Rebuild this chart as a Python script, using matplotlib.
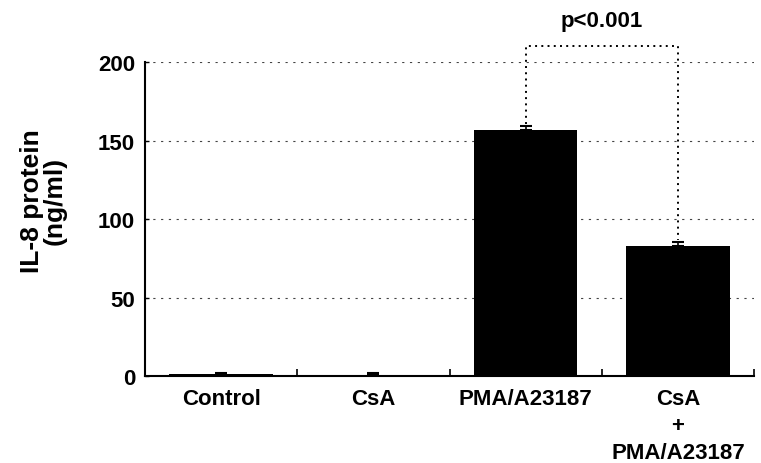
import numpy as np
import matplotlib.pyplot as plt

# values
groups = ['Control', 'CsA', 'PMA/A23187', 'CsA\n+\nPMA/A23187']
il8 = [1.0, 0.8, 157, 83]
il8_err = [1.0, 1.0, 2.5, 2.5]
y_ticks = [0, 50, 100, 150, 200]
p_text = 'p<0.001'

plt.rcParams['font.family'] = ['Liberation Sans', 'DejaVu Sans']
plt.rcParams['font.weight'] = 'bold'

fig = plt.figure(figsize=(7.61, 4.64), dpi=100)
ax = fig.add_axes([0.1905, 0.1875, 0.8005, 0.6767])

x = np.arange(len(groups))
ax.bar(x, il8, width=0.68, color='black', zorder=3)
ax.errorbar(x, il8, yerr=[np.zeros(len(il8)), il8_err], fmt='none',
            ecolor='black', elinewidth=1.2, capsize=4, capthick=1.5, zorder=4)

ax.set_xlim(-0.5, len(groups) - 0.5)
ax.set_ylim(0, 200)
ax.set_yticks(y_ticks)
ax.set_yticklabels([str(v) for v in y_ticks], fontsize=16, fontweight='bold')
ax.tick_params(axis='y', direction='in', length=3, width=1, pad=7)
ax.set_xticks(x)
ax.set_xticklabels(groups, fontsize=16, fontweight='bold', linespacing=1.35)
ax.tick_params(axis='x', which='major', length=0, pad=9)
ax.set_xticks(list(x + 0.5), minor=True)
ax.tick_params(axis='x', which='minor', direction='in', length=5, width=1.2)

ax.spines['top'].set_visible(False)
ax.spines['right'].set_visible(False)
ax.spines['left'].set_linewidth(1.5)
ax.spines['bottom'].set_linewidth(1.5)

for v in y_ticks[1:]:
    ax.axhline(v, color='#444444', lw=0.8, ls=(0, (2, 5)), zorder=1)

# significance bracket
top = 210
i, j = 2, 3
ax.plot([x[i], x[i], x[j], x[j]],
        [il8[i] + il8_err[i] + 1, top, top, il8[j] + il8_err[j] + 1],
        color='black', lw=1.4, ls=(0, (1, 2.2)), clip_on=False, zorder=5)
ax.text((x[i] + x[j]) / 2, top + 10, p_text, ha='center', va='bottom',
        fontsize=16, fontweight='bold', clip_on=False)

fig.text(0.057, 0.567, 'IL-8 protein\n(ng/ml)', rotation=90, ha='center',
         va='center', fontsize=19, fontweight='bold', linespacing=0.95)

fig.savefig('out.png', dpi=100)
